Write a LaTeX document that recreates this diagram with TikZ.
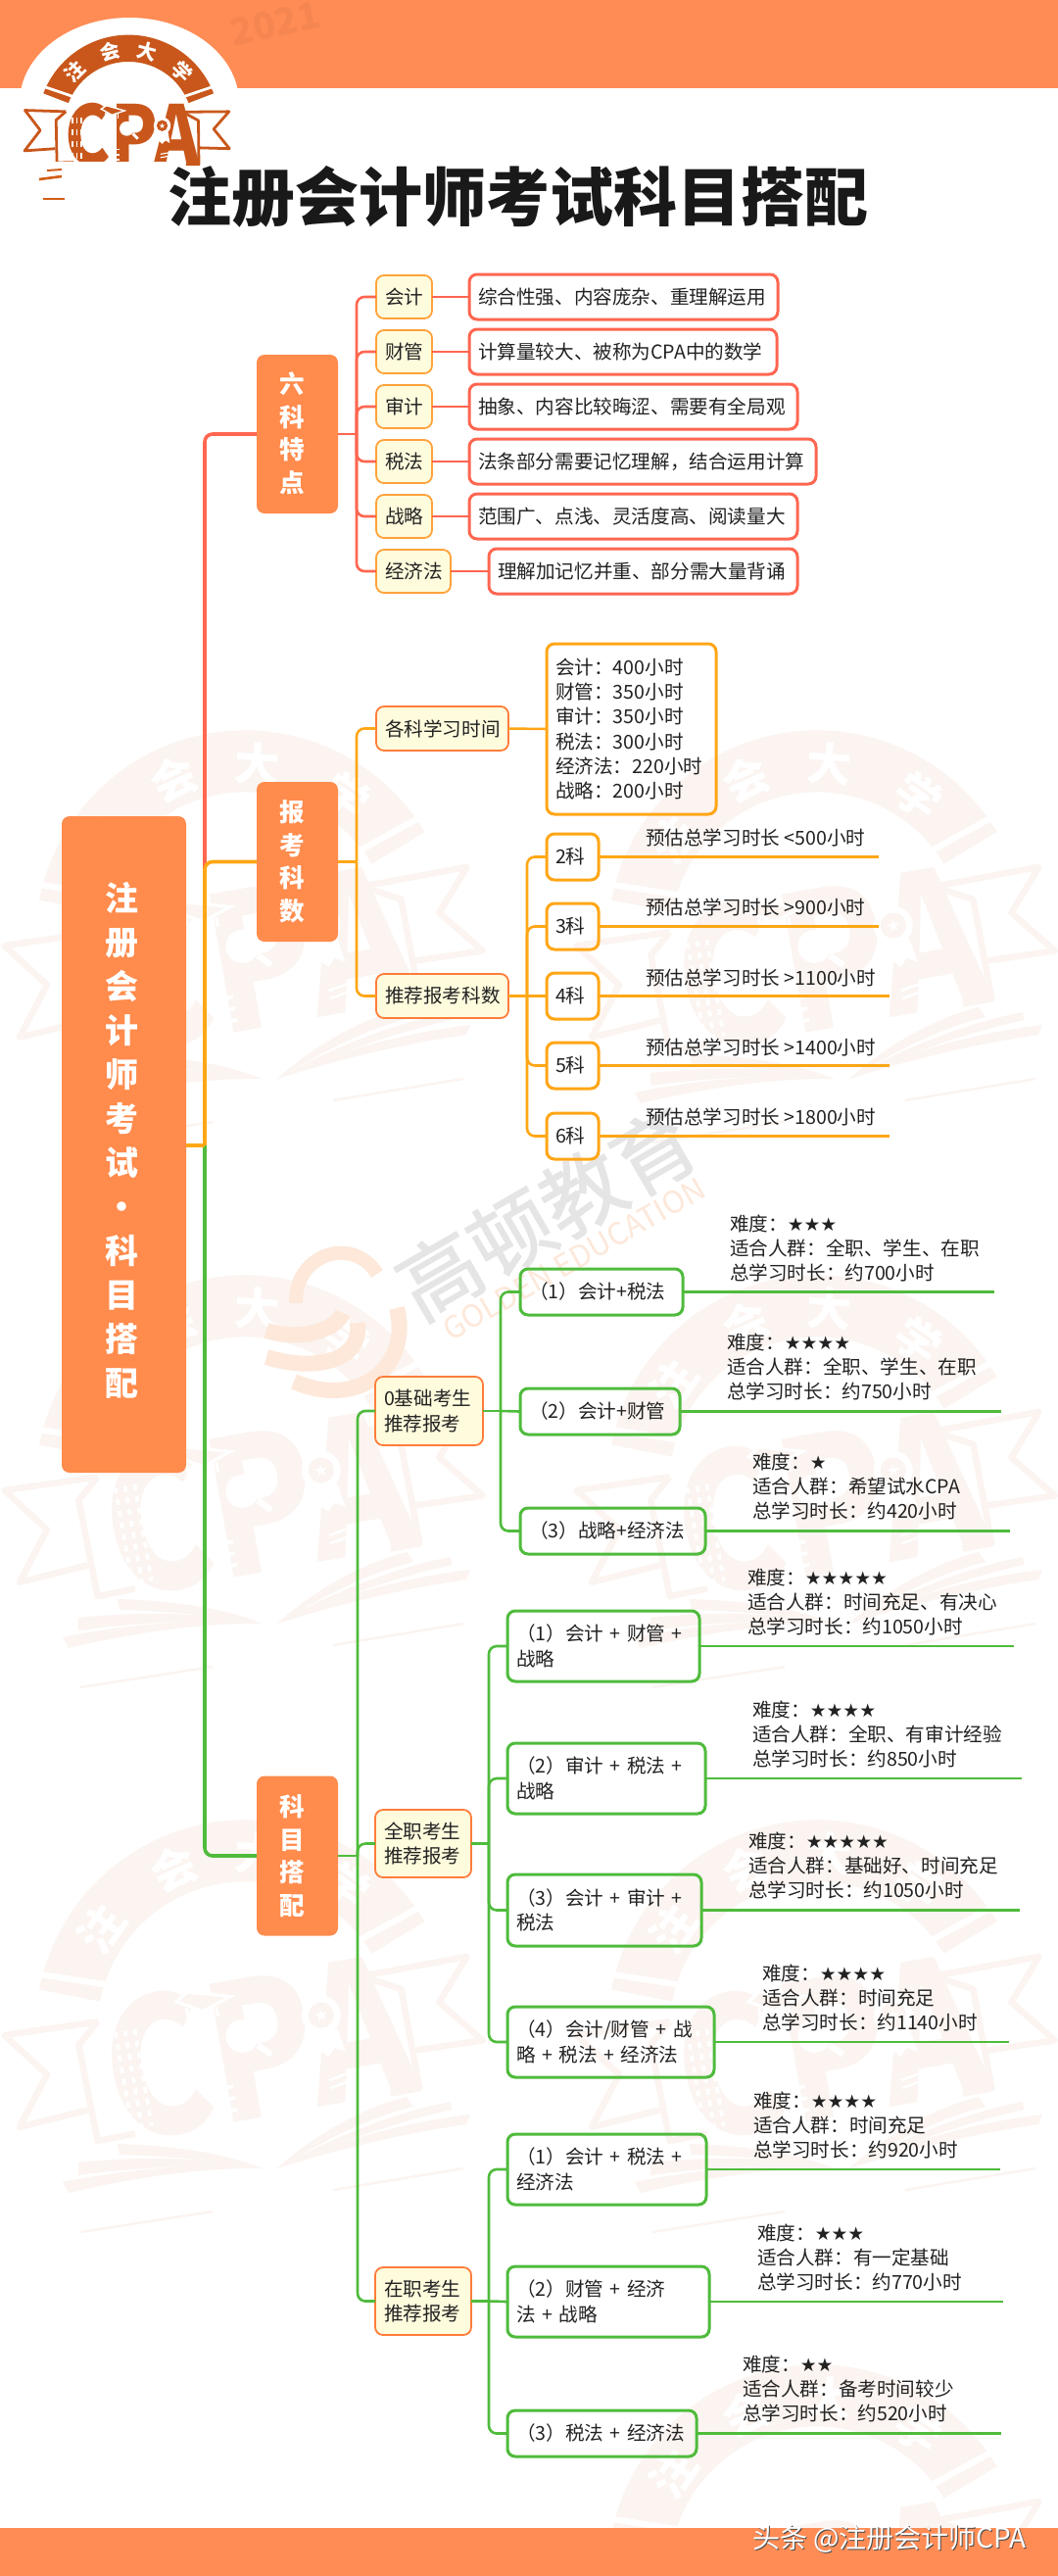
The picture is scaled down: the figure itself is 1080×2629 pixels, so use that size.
\documentclass[tikz,border=0pt]{standalone}
\usepackage{graphicx}
\usepackage{fontspec}
\setmainfont{Noto Sans CJK SC}
\newfontfamily\starf{DejaVu Sans}
\newfontfamily\gaof[FakeBold=1.2]{Noto Sans CJK SC}
\definecolor{bandc}{HTML}{FF8C55}
\definecolor{hubc}{HTML}{FF8B4C}
\definecolor{paleo}{HTML}{FBF4F0}
\definecolor{logoc}{HTML}{C9571B}
\definecolor{redc}{HTML}{FF6650}
\definecolor{orac}{HTML}{FFA616}
\definecolor{grnc}{HTML}{4FBB3C}
\definecolor{yelc}{HTML}{FFFBDD}
\definecolor{bordA}{HTML}{FFA23A}
\definecolor{bordB}{HTML}{FF7D3A}
\definecolor{txtc}{HTML}{222222}
\definecolor{swirlc}{HTML}{FDE8DA}
\definecolor{gaoc}{HTML}{E5E5E5}
\newcommand\ft{\fontsize{9.8}{12.65}\selectfont}
\newcommand\stars[1]{{\starf\fontsize{9.4}{12.65}\selectfont #1}}
\tikzset{
 every node/.style={inner sep=0pt,outer sep=0pt,text=txtc},
 hubbox/.style={fill=hubc,rounded corners=4pt},
 catbox/.style={fill=yelc,draw=bordA,line width=.9pt,rounded corners=4pt,font=\ft,align=left,inner xsep=4.5pt},
 catboxb/.style={catbox,draw=bordB},
 descbox/.style={draw=redc,line width=1.5pt,rounded corners=4pt,font=\ft,align=left,inner xsep=4.5pt},
 timebox/.style={draw=orac,line width=1.5pt,rounded corners=4pt,font=\ft,align=left,inner xsep=4.5pt},
 planbox/.style={draw=grnc,line width=1.5pt,rounded corners=4pt,font=\ft,align=left,inner xsep=4.5pt},
 leaftext/.style={anchor=west,font=\ft,align=left},
 hubtext/.style={text=white,font=\bfseries\fontsize{12.8}{16.8}\selectfont,align=center},
 wire/.style={line width=1.3pt,rounded corners=4pt},
 trunk/.style={line width=1.8pt,rounded corners=4pt},
 leafwire/.style={line width=1.25pt},
}
\newcommand{\boxn}[7]{%
 \pgfmathsetmacro\cxx{(#3+#5)/2}\pgfmathsetmacro\cyy{(#4+#6)/2}%
 \pgfmathsetmacro\ww{(#5-#3)*0.5}\pgfmathsetmacro\hh{(#6-#4)*0.5}\pgfmathsetmacro\tw{\ww-9}%
 \node[#2,minimum width=\ww pt,minimum height=\hh pt,text width=\tw pt] (#1) at (\cxx,\cyy) {#7};}
\newcommand{\leafn}[8]{% box, colour, line y, end x, text x, text y, text name, text
 \coordinate (#7e) at (#4,#3);
 \draw[leafwire,#2] (#1.east) -- (#7e);
 \node[leaftext] (#7) at (#5,#6) {#8};}
\newcommand{\cpalogo}[5]{%
 \pgfmathsetmacro\lwv{#3*3.2}%
 \begin{scope}[shift={(#1,#2)},rotate=#4,scale=#3,transform shape]
  \begin{scope}[shift={(5,-10)}]
   \fill[#5] plot[domain=-159:-21,samples=40] (\x:214) -- plot[domain=-21:-159,samples=40] (\x:151) -- cycle;
   \draw[white,line width=\lwv pt] (-152:148) -- (-155:218) (-28:148) -- (-25:218);
   \foreach \a/\c in {-45/注,-14/会,14/大,45/学}
     \node[text=white,font=\bfseries\fontsize{23}{23}\selectfont,rotate={-1*(\a)}] at ({-90+\a}:180) {\c};
  \end{scope}
  \draw[#5,line width=\lwv pt,line join=round] (-142,-44) -- (-238,-47) -- (-202,0) -- (-239,48) -- (-167,43);
  \draw[#5,line width=\lwv pt,line join=round] (-142,-44) -- (-165,-24) -- (-163,76) -- (-124,75);
  \draw[#5,line width=\lwv pt,line join=round] (132,-43) -- (241,-44) -- (205,-3) -- (242,43) -- (171,41);
  \draw[#5,line width=\lwv pt,line join=round] (132,-43) -- (169,-23) -- (170,80) -- (140,80);
  \node[text=#5,font=\bfseries\fontsize{75}{75}\selectfont] at (14,10) {\scalebox{1.07}[1.28]{CPA}};
  \fill[white] (1,-4) circle[radius=17];
  \draw[white,line width=\lwv pt] (15,8) -- (27,20);
  \filldraw[fill=#5,draw=white,line width=.5*\lwv pt] (-59,-50) -- (-47,-58) -- (-4,-46) -- (-34,-36) -- cycle;
  \draw[white,line width=.5*\lwv pt] (-50,-42) -- (-50,-24) (-20,-38) -- (-20,-28);
  \fill[white] (84,-11) circle[radius=20];
  \fill[#5] (84,-11) circle[radius=13];
  \fill[white] (70,5) -- (66,30) -- (76,24) -- (84,32) -- (92,24) -- (102,30) -- (98,5) -- cycle;
  \node[text=white,font=\starf\fontsize{9}{9}\selectfont] at (84,-11) {★};
  \foreach \q in {-126,-116,-106}
    \draw[white,line width=.6*\lwv pt,dash pattern=on 3pt off 3pt] (\q,-30) -- (\q,70);
  \draw[white,line width=.4*\lwv pt] (-98,-20) -- (-98,40);
  \foreach \q in {45,57,69}
    \draw[white,line width=.6*\lwv pt] (-37,\q) -- (-17,\q);
  \draw[white,line width=.4*\lwv pt] (80,56) -- (102,52) (110,52) -- (132,56) (80,64) -- (102,60) (110,60) -- (132,64);
 \end{scope}}
\newcommand{\wmark}[2]{%
 \cpalogo{#1}{#2}{1}{10}{paleo}
 \begin{scope}[shift={(#1,#2)}]
  \fill[paleo] (-127,106) .. controls (-60,108) and (-10,118) .. (20,131) .. controls (-30,122) and (-80,118) .. (-125,117) -- cycle;
  \fill[paleo] (-167,125) .. controls (-100,118) and (-30,120) .. (20,131) .. controls (-40,126) and (-110,130) .. (-167,138) -- cycle;
  \fill[paleo] (-183,145) .. controls (-110,130) and (-30,125) .. (20,131) .. controls (-40,130) and (-110,140) .. (-177,156) -- cycle;
  \fill[paleo] (168,58) .. controls (120,70) and (70,100) .. (36,131) .. controls (80,105) and (125,80) .. (175,68) -- cycle;
  \fill[paleo] (213,63) .. controls (150,75) and (80,105) .. (36,131) .. controls (90,108) and (150,85) .. (214,71) -- cycle;
  \fill[paleo] (233,76) .. controls (160,85) and (90,105) .. (36,131) .. controls (95,112) and (165,95) .. (229,86) -- cycle;
  \draw[paleo,line width=1.2pt] (-165,196) -- (-30,175);
  \draw[paleo,line width=1.2pt] (93,153) -- (226,131);
 \end{scope}}
\begin{document}
\begin{tikzpicture}[x=.5pt,y=-.5pt]
\useasboundingbox (0,0) rectangle (1080,2629);
\fill[white] (0,0) rectangle (1080,2629);
% --- watermarks
\begin{scope}
 \clip (0,680) rectangle (1080,2629);
 \foreach \r in {970,1526,2082}{\wmark{247}{\r}}
 \foreach \r in {970,1526,2082,2638}{\wmark{831}{\r}}
 \draw[swirlc,line width=7pt] (302,1330) .. controls (300,1280) and (360,1260) .. (385,1300);
 \draw[swirlc,line width=8pt] (405,1335) .. controls (420,1390) and (370,1440) .. (300,1410);
 \draw[swirlc,line width=8pt] (272,1358) .. controls (310,1370) and (345,1355) .. (350,1340);
 \draw[swirlc,line width=8pt] (272,1385) .. controls (320,1400) and (370,1390) .. (365,1350);
 \node[text=gaoc,font=\gaof\fontsize{42}{42}\selectfont,rotate=30] (gaodun) at (558,1238) {高顿教育};
 \node[text=swirlc,font=\fontsize{15.5}{16}\selectfont,rotate=29.5] (golden) at (586,1285) {GOLDEN EDUCATION};
\end{scope}
% --- bands and logo
\fill[bandc] (0,0) rectangle (1080,90);
\fill[bandc] (0,2580) rectangle (1080,2629);
\node[text=bandc!96!black,font=\bfseries\fontsize{19}{19}\selectfont,rotate=12] (yearmark) at (281,24) {2021};
\fill[white] (132,105) ellipse[x radius=112,y radius=87];
\cpalogo{129}{133}{.435}{0}{logoc}
\fill[white] (0,165) rectangle (172,235);
\draw[logoc!85!orange,line width=1.3pt] (40,183) -- (63,180);
\draw[logoc!85!orange,line width=1pt] (48,174) -- (63,173);
\draw[logoc!85!orange,line width=.7pt] (44,203) -- (66,203);
% --- title
\node[text=black!90,font=\bfseries\fontsize{32.5}{34}\selectfont] (title) at (528.5,201) {注册会计师考试科目搭配};
% --- footer
\node[anchor=west,text=black!70,font=\fontsize{14}{14}\selectfont] (footshadow) at (769,2592) {头条 @注册会计师CPA};
\node[anchor=west,text=white,font=\fontsize{14}{14}\selectfont] (foot) at (768,2591) {头条 @注册会计师CPA};
% --- root and hubs
\node[hubbox,minimum width=63.5pt,minimum height=335pt] (root) at (126.5,1168) {};
\node[text=white,font=\bfseries\fontsize{17}{22.5}\selectfont,align=center] (roottext) at (124,1163.5) {注\\册\\会\\计\\师\\考\\试\\·\\科\\目\\搭\\配};
\node[hubbox,minimum width=41.5pt,minimum height=81pt] (hubA) at (303.5,443) {};
\node[hubtext] (hubAtext) at (298,442) {六\\科\\特\\点};
\node[hubbox,minimum width=41.5pt,minimum height=81.5pt] (hubB) at (303.5,879.5) {};
\node[hubtext] (hubBtext) at (298,879.5) {报\\考\\科\\数};
\node[hubbox,minimum width=41.5pt,minimum height=81.5pt] (hubC) at (303.5,1894) {};
\node[hubtext] (hubCtext) at (298,1894) {科\\目\\搭\\配};
\coordinate (jroot) at (209,1169);
\draw[trunk,redc] (hubA.west) -| (jroot);
\draw[trunk,orac] (hubB.west) -| (jroot);
\draw[trunk,grnc] (hubC.west) -| (jroot);
\draw[trunk,orac] (root.east |- jroot) -- (jroot);
% --- six subjects
\coordinate (jA) at (364,443);
\draw[wire,redc] (hubA.east |- jA) -- (jA);
\boxn{a1}{catbox}{384}{281}{441}{325}{会计}
\boxn{a2}{catbox}{384}{337}{441}{381}{财管}
\boxn{a3}{catbox}{384}{393}{441}{437}{审计}
\boxn{a4}{catbox}{384}{449}{441}{493}{税法}
\boxn{a5}{catbox}{384}{505}{441}{549}{战略}
\boxn{a6}{catbox}{384}{561}{460}{605}{经济法}
\boxn{d1}{descbox}{479}{280}{794}{326}{综合性强、内容庞杂、重理解运用}
\boxn{d2}{descbox}{479}{336}{793}{382}{计算量较大、被称为CPA中的数学}
\boxn{d3}{descbox}{479}{392}{814}{438}{抽象、内容比较晦涩、需要有全局观}
\boxn{d4}{descbox}{479}{448}{833}{494}{法条部分需要记忆理解，结合运用计算}
\boxn{d5}{descbox}{479}{504}{814}{550}{范围广、点浅、灵活度高、阅读量大}
\boxn{d6}{descbox}{499}{560}{814}{606}{理解加记忆并重、部分需大量背诵}
\foreach \n in {1,...,6}{
 \draw[wire,redc] (a\n.west) -| (jA);
 \draw[leafwire,redc] (a\n.east) -- (d\n.west);
}
% --- hours
\coordinate (jB) at (364,879.5);
\draw[wire,orac] (hubB.east |- jB) -- (jB);
\boxn{b1}{catboxb}{384}{721}{519}{766}{各科学习时间}
\boxn{b2}{catboxb}{384}{994}{519}{1039}{推荐报考科数}
\draw[wire,orac] (b1.west) -| (jB);
\draw[wire,orac] (b2.west) -| (jB);
\boxn{hours}{timebox}{558}{657}{731}{831}{会计：400小时\\财管：350小时\\审计：350小时\\税法：300小时\\经济法：220小时\\战略：200小时}
\draw[leafwire,orac] (b1.east) -- (hours.west);
\coordinate (jK) at (538,1016.5);
\draw[wire,orac] (b2.east) -- (jK);
\boxn{k2}{timebox}{558}{851}{611}{898}{2科}
\boxn{k3}{timebox}{558}{922}{611}{969}{3科}
\boxn{k4}{timebox}{558}{993}{611}{1040}{4科}
\boxn{k5}{timebox}{558}{1064}{611}{1111}{5科}
\boxn{k6}{timebox}{558}{1136}{611}{1183}{6科}
\draw[wire,orac] (k2.west) -| (jK);
\draw[wire,orac] (k3.west) -| (jK);
\draw[wire,orac] (k4.west) -- (jK);
\draw[wire,orac] (k5.west) -| (jK);
\draw[wire,orac] (k6.west) -| (jK);
\leafn{k2}{orac}{874.5}{897}{659}{855}{kt2}{预估总学习时长 <500小时}
\leafn{k3}{orac}{945.5}{897}{659}{926}{kt3}{预估总学习时长 >900小时}
\leafn{k4}{orac}{1016.5}{908}{659}{998}{kt4}{预估总学习时长 >1100小时}
\leafn{k5}{orac}{1087.5}{908}{659}{1069}{kt5}{预估总学习时长 >1400小时}
\leafn{k6}{orac}{1159.5}{908}{659}{1140}{kt6}{预估总学习时长 >1800小时}
% --- plans
\coordinate (jC) at (365,1894);
\draw[wire,grnc] (hubC.east) -- (jC);
\boxn{c1}{catboxb}{383}{1405}{493}{1475}{0基础考生\\推荐报考}
\boxn{c2}{catboxb}{383}{1847}{481}{1916}{全职考生\\推荐报考}
\boxn{c3}{catboxb}{383}{2314}{481}{2383}{在职考生\\推荐报考}
\draw[wire,grnc] (c1.west) -| (jC);
\draw[wire,grnc] (c2.west) -| (jC);
\draw[wire,grnc] (c3.west) -| (jC);
\coordinate (jP) at (511,1440);
\coordinate (jQ) at (499,1881.5);
\coordinate (jR) at (499,2348.5);
\draw[wire,grnc] (c1.east) -- (jP);
\draw[wire,grnc] (c2.east) -- (jQ);
\draw[wire,grnc] (c3.east) -- (jR);
\boxn{p1}{planbox}{531}{1295}{697}{1342}{（1）会计+税法}
\boxn{p2}{planbox}{531}{1417}{694}{1464}{（2）会计+财管}
\boxn{p3}{planbox}{531}{1539}{720}{1586}{（3）战略+经济法}
\boxn{q1}{planbox}{518}{1644}{714}{1716}{（1）会计 + 财管 +\\战略}
\boxn{q2}{planbox}{518}{1779}{720}{1851}{（2）审计 + 税法 +\\战略}
\boxn{q3}{planbox}{518}{1913}{716}{1986}{（3）会计 + 审计 +\\税法}
\boxn{q4}{planbox}{518}{2048}{729}{2120}{（4）会计/财管 + 战\\略 + 税法 + 经济法}
\boxn{r1}{planbox}{518}{2178}{721}{2250}{（1）会计 + 税法 +\\经济法}
\boxn{r2}{planbox}{518}{2313}{724}{2385}{（2）财管 + 经济\\法 + 战略}
\boxn{r3}{planbox}{518}{2460}{711}{2507}{（3）税法 + 经济法}
\draw[wire,grnc] (p1.west) -| (jP);
\draw[wire,grnc] (p2.west) -- (jP);
\draw[wire,grnc] (p3.west) -| (jP);
\foreach \n in {q1,q2,q3,q4} {\draw[wire,grnc] (\n.west) -| (jQ);}
\draw[wire,grnc] (r1.west) -| (jR);
\draw[wire,grnc] (r2.west) -- (jR);
\draw[wire,grnc] (r3.west) -| (jR);
\leafn{p1}{grnc}{1318.5}{1015}{745}{1274}{t1}{难度：\stars{★★★}\\适合人群：全职、学生、在职\\总学习时长：约700小时}
\leafn{p2}{grnc}{1440.5}{1022}{742}{1395}{t2}{难度：\stars{★★★★}\\适合人群：全职、学生、在职\\总学习时长：约750小时}
\leafn{p3}{grnc}{1562.5}{1031}{768}{1517}{t3}{难度：\stars{★}\\适合人群：希望试水CPA\\总学习时长：约420小时}
\leafn{q1}{grnc}{1680}{1035}{763}{1635}{t4}{难度：\stars{★★★★★}\\适合人群：时间充足、有决心\\总学习时长：约1050小时}
\leafn{q2}{grnc}{1815}{1043}{768}{1770}{t5}{难度：\stars{★★★★}\\适合人群：全职、有审计经验\\总学习时长：约850小时}
\leafn{q3}{grnc}{1949.5}{1041}{764}{1904}{t6}{难度：\stars{★★★★★}\\适合人群：基础好、时间充足\\总学习时长：约1050小时}
\leafn{q4}{grnc}{2084}{1030}{778}{2039}{t7}{难度：\stars{★★★★}\\适合人群：时间充足\\总学习时长：约1140小时}
\leafn{r1}{grnc}{2214}{1021}{769}{2169}{t8}{难度：\stars{★★★★}\\适合人群：时间充足\\总学习时长：约920小时}
\leafn{r2}{grnc}{2349}{1024}{773}{2304}{t9}{难度：\stars{★★★}\\适合人群：有一定基础\\总学习时长：约770小时}
\leafn{r3}{grnc}{2483.5}{1022}{758}{2438}{t10}{难度：\stars{★★}\\适合人群：备考时间较少\\总学习时长：约520小时}
\end{tikzpicture}
\end{document}
